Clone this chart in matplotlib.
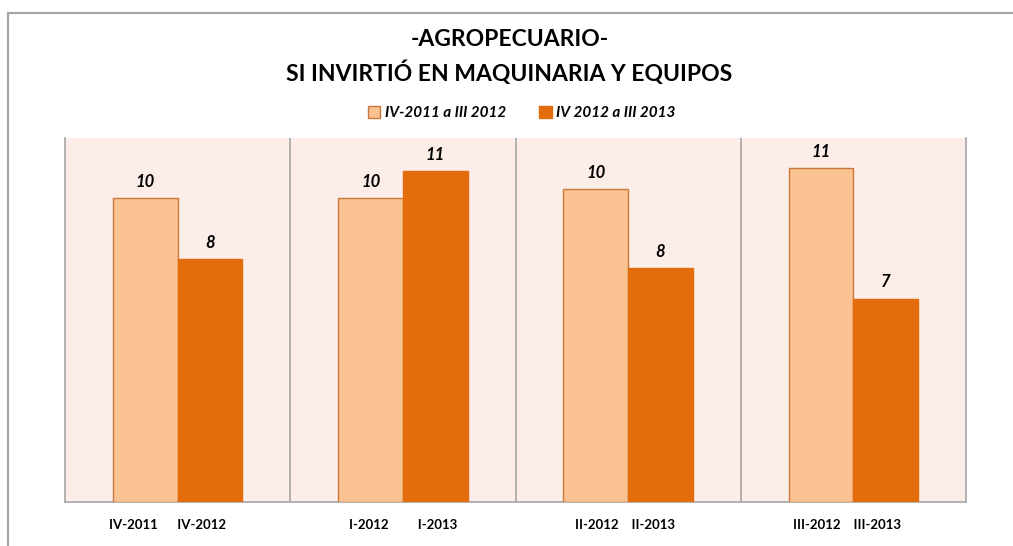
import numpy as np
import matplotlib
matplotlib.use("Agg")
import matplotlib.pyplot as plt
from matplotlib.patches import Patch, Rectangle

# data
categories = ["IV-2011      IV-2012      ", "I-2012         I-2013",
              "II-2012    II-2013  ", "III-2012    III-2013    "]
series_names = ["IV-2011 a III 2012", "IV 2012 a III 2013"]
prev_period = [10.0, 10.0, 10.3, 11.0]
curr_period = [8.0, 10.9, 7.7, 6.7]

light = "#FAC191"
dark = "#E36C0C"
edge = "#C8783C"
bg = "#FCEDE8"

plt.rcParams['font.family'] = ['Lato', 'DejaVu Sans']

fig = plt.figure(figsize=(10.13, 5.46), dpi=100)
ax = fig.add_axes([0.0642, 0.0806, 0.8894, 0.6672])

# outer chart border (left + top visible)
fig.add_artist(Rectangle((7.5 / 1013, -0.1), 1.2, 1 - 13 / 546 + 0.1,
                         transform=fig.transFigure, fill=False,
                         edgecolor="#A6A6A6", lw=1.6))

x = np.arange(len(categories))
w = 0.287
b1 = ax.bar(x - w / 2, prev_period, w, color=light, edgecolor=edge, lw=1, zorder=3)
b2 = ax.bar(x + w / 2, curr_period, w, color=dark, edgecolor=dark, lw=1, zorder=3)

for bars in (b1, b2):
    for r in bars:
        ax.annotate("%.0f" % r.get_height(), (r.get_x() + r.get_width() / 2, r.get_height()),
                    xytext=(0, 6), textcoords="offset points", ha="center", va="bottom",
                    fontsize=12, fontweight="bold", style="italic")

ax.set_facecolor(bg)
ax.set_xlim(-0.5, len(categories) - 0.5)
ax.set_ylim(0, 12)
for s in np.arange(0.5, len(categories) - 0.5, 1):
    ax.axvline(s, color="#A6A6A6", lw=1.2, zorder=1)
for sp in ("left", "right", "bottom"):
    ax.spines[sp].set_color("#A6A6A6")
    ax.spines[sp].set_linewidth(1.2)
ax.spines["top"].set_visible(False)
ax.set_yticks([])
ax.set_xticks(x)
ax.set_xticklabels(categories, fontsize=9.5, fontweight="bold")
ax.tick_params(axis="x", length=0, pad=12)

fig.text(0.503, 1 - 40 / 546, "-AGROPECUARIO-", ha="center", va="center",
         fontsize=16.5, fontweight="bold")
fig.text(0.503, 1 - 73 / 546, "SI INVIRTIÓ EN MAQUINARIA Y EQUIPOS", ha="center",
         va="center", fontsize=16.5, fontweight="bold")

handles = [Patch(facecolor=light, edgecolor=edge), Patch(facecolor=dark, edgecolor=dark)]
fig.legend(handles, series_names, loc="center", bbox_to_anchor=(0.515, 1 - 113 / 546),
           ncol=2, frameon=False, handlelength=0.8, handleheight=0.8,
           handletextpad=0.3, columnspacing=2.2,
           prop={"size": 11, "weight": "bold", "style": "italic"})

fig.savefig("out.png", dpi=100)
